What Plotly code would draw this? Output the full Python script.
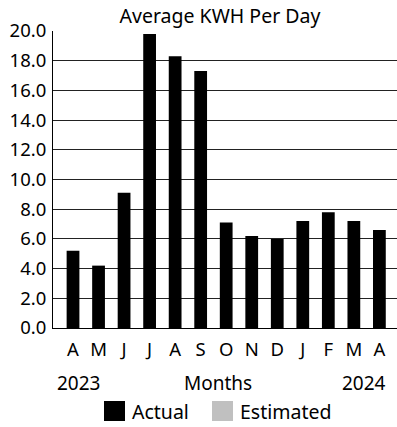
import plotly.graph_objects as go

# Monthly average energy use, April 2023 through April 2024
months = ["A", "M", "J", "J", "A", "S", "O", "N", "D", "J", "F", "M", "A"]
actual_kwh = [5.2, 4.2, 9.1, 19.8, 18.3, 17.3, 7.1, 6.2, 6.0, 7.2, 7.8, 7.2, 6.6]
estimated_kwh = [None] * len(months)
y_ticks = [0, 2, 4, 6, 8, 10, 12, 14, 16, 18, 20]
start_year, end_year = "2023", "2024"

FONT = "Noto Sans"
W, H = 397, 427
L, R, T, B = 53, 0, 31, 99
positions = list(range(len(months)))


def px(x):
    """Horizontal pixel -> paper fraction of the plot area."""
    return (x - L) / (W - L - R)


def py(y):
    """Vertical pixel (from top) -> paper fraction of the plot area."""
    return (H - B - y) / (H - T - B)


fig = go.Figure()
fig.add_trace(go.Bar(x=positions, y=actual_kwh, name="Actual",
                     marker=dict(color="black", line=dict(width=0)),
                     width=0.5, showlegend=False))
fig.add_trace(go.Bar(x=positions, y=estimated_kwh, name="Estimated",
                     marker=dict(color="#c0c0c0", line=dict(width=0)),
                     width=0.5, showlegend=False))

fig.update_layout(
    width=W, height=H,
    margin=dict(l=L, r=R, t=T, b=B),
    paper_bgcolor="white", plot_bgcolor="white",
    barmode="overlay",
    font=dict(family=FONT, size=18, color="black"),
    title=dict(text="Average KWH Per Day", x=220 / W, xanchor="center",
               y=1 - 16 / H, yanchor="middle", font=dict(family=FONT, size=19.5)),
)
fig.update_xaxes(
    range=[-0.784, 12.69], tickmode="array", tickvals=positions, ticktext=months,
    showgrid=False, showline=True, linecolor="black", linewidth=1,
    ticks="", ticklabelstandoff=5, tickfont=dict(size=18.5), zeroline=False,
)
fig.update_yaxes(
    range=[0, 20], tickmode="array", tickvals=y_ticks,
    ticktext=[f"{v:.1f}" for v in y_ticks],
    showgrid=True, gridcolor="#222222", gridwidth=1,
    showline=True, linecolor="black", linewidth=1, zeroline=False,
    ticks="", ticklabelstandoff=2, tickfont=dict(size=18.5),
)

# Year and axis captions beneath the month labels
for text, xpos in [(start_year, 78), ("Months", 218), (end_year, 364)]:
    fig.add_annotation(text=text, x=px(xpos), xref="paper", xanchor="center",
                       y=py(383), yref="paper", yanchor="middle",
                       showarrow=False, font=dict(size=19))

# Legend: filled swatches followed by labels
for label, color, x0 in [("Actual", "black", 104), ("Estimated", "#c0c0c0", 212)]:
    fig.add_shape(type="rect", xref="paper", yref="paper",
                  x0=px(x0), x1=px(x0 + 21),
                  y0=py(421), y1=py(401),
                  fillcolor=color, line=dict(width=0))
    fig.add_annotation(text=label, x=px(x0 + 26), xref="paper", xanchor="left",
                       y=py(411), yref="paper", yanchor="middle",
                       showarrow=False, font=dict(size=19.5))

fig.write_html("out.html")
